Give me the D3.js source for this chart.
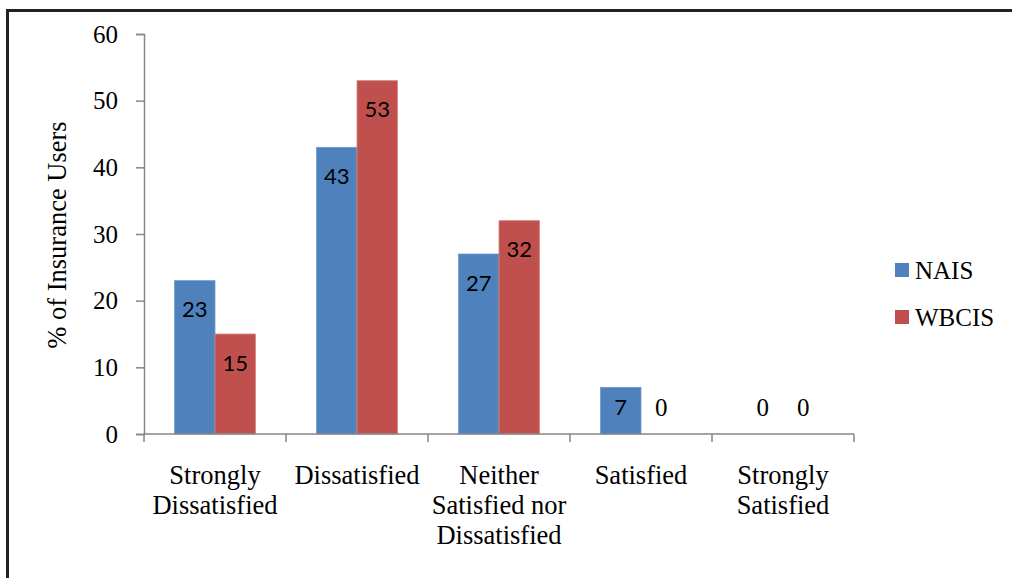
<!DOCTYPE html>
<html>
<head>
<meta charset="utf-8">
<script src="https://cdn.jsdelivr.net/npm/d3@7"></script>
<style>
  html, body { margin: 0; padding: 0; background: #fff; }
  svg { display: block; }
</style>
</head>
<body>
<svg id="chart" width="1012" height="578"></svg>
<script>
// Satisfaction levels of insurance users, NAIS vs WBCIS (% of users)
const categories = [
  ["Strongly", "Dissatisfied"],
  ["Dissatisfied"],
  ["Neither", "Satisfied nor", "Dissatisfied"],
  ["Satisfied"],
  ["Strongly", "Satisfied"]
];
const seriesNames = ["NAIS", "WBCIS"];
const naisValues = [23, 43, 27, 7, 0];
const wbcisValues = [15, 53, 32, 0, 0];
const yTicks = [0, 10, 20, 30, 40, 50, 60];
const colors = ["#4F81BD", "#C0504D"];

const svg = d3.select("#chart");
const serif = "'Liberation Serif', 'Times New Roman', serif";
const sans = "Lato, 'Open Sans', sans-serif";

// Outer frame
svg.append("rect")
  .attr("x", 7.5).attr("y", 10.5)
  .attr("width", 1100).attr("height", 700)
  .attr("fill", "none").attr("stroke", "#222").attr("stroke-width", 3);

const plot = { left: 144, right: 854, top: 34, bottom: 434 };

const keys = categories.map((c, i) => i);
const x0 = d3.scaleBand().domain(keys)
  .range([plot.left, plot.right])
  .paddingInner(0.43).paddingOuter(0.215);
const x1 = d3.scaleBand().domain(seriesNames).range([0, x0.bandwidth()]);
const y = d3.scaleLinear().domain([0, 60]).range([plot.bottom, plot.top]);

const rows = keys.map(i => ({ i, values: [naisValues[i], wbcisValues[i]] }));

// Bars
const groups = svg.append("g").selectAll("g").data(rows).join("g")
  .attr("transform", d => `translate(${x0(d.i)},0)`);

groups.selectAll("rect")
  .data(d => d.values.map((v, k) => ({ v, k, name: seriesNames[k] })).filter(e => e.v > 0))
  .join("rect")
  .attr("x", e => x1(e.name))
  .attr("y", e => y(e.v))
  .attr("width", x1.bandwidth())
  .attr("height", e => y(0) - y(e.v))
  .attr("fill", e => colors[e.k])
  .attr("stroke", e => e.k === 0 ? "#6f9ad0" : "#d68380")
  .attr("stroke-width", 0.8);

// Value labels
groups.selectAll("text")
  .data(d => d.values.map((v, k) => ({ v, k, name: seriesNames[k] })))
  .join("text")
  .attr("x", e => x1(e.name) + x1.bandwidth() / 2)
  .attr("y", e => {
    if (e.v === 0) return y(0) - 27;
    const h = y(0) - y(e.v);
    return y(e.v) + Math.min(29, h / 2 - 3);
  })
  .attr("dy", "0.35em")
  .attr("text-anchor", "middle")
  .attr("font-family", e => e.v === 0 ? serif : sans)
  .attr("font-size", e => e.v === 0 ? 25 : 22)
  .attr("fill", "#000")
  .text(e => e.v);

// Y axis
const yAxis = d3.axisLeft(y).tickValues(yTicks).tickSize(8).tickPadding(18);
const yg = svg.append("g").attr("transform", `translate(${plot.left},0)`).call(yAxis)
  .attr("font-family", serif).attr("font-size", 25);
yg.select(".domain").attr("stroke", "#868686").attr("stroke-width", 1.5);
yg.selectAll(".tick line").attr("stroke", "#868686").attr("stroke-width", 1.5);
yg.selectAll(".tick text").attr("fill", "#000");

// X axis with ticks at category boundaries
const xg = svg.append("g");
xg.append("line")
  .attr("x1", plot.left).attr("x2", plot.right)
  .attr("y1", y(0)).attr("y2", y(0))
  .attr("stroke", "#868686").attr("stroke-width", 1.5);
const boundaries = keys.map(i => x0(i) - x0.step() * x0.paddingInner() / 2).concat([plot.right]);
xg.selectAll("line.tick").data(boundaries).join("line")
  .attr("class", "tick")
  .attr("x1", d => d).attr("x2", d => d)
  .attr("y1", y(0)).attr("y2", y(0) + 8)
  .attr("stroke", "#868686").attr("stroke-width", 1.5);

// Category labels
const catLabels = xg.selectAll("text.cat").data(categories).join("text")
  .attr("class", "cat")
  .attr("text-anchor", "middle")
  .attr("font-family", serif).attr("font-size", 26.5).attr("fill", "#000");
catLabels.each(function(lines, i) {
  const cx = x0(i) + x0.bandwidth() / 2;
  d3.select(this).selectAll("tspan").data(lines).join("tspan")
    .attr("x", cx)
    .attr("y", (d, j) => y(0) + 50 + j * 30)
    .text(d => d);
});

// Y axis title
svg.append("text")
  .attr("transform", "translate(66,235) rotate(-90)")
  .attr("text-anchor", "middle")
  .attr("font-family", serif).attr("font-size", 26.5).attr("fill", "#000")
  .text("% of Insurance Users");

// Legend
const legend = svg.append("g").selectAll("g").data(seriesNames).join("g")
  .attr("transform", (d, i) => `translate(895,${270 + i * 47})`);
legend.append("rect")
  .attr("x", 0).attr("y", -7).attr("width", 14).attr("height", 14)
  .attr("fill", (d, i) => colors[i]);
legend.append("text")
  .attr("x", 20).attr("y", 0).attr("dy", "0.35em")
  .attr("font-family", serif).attr("font-size", 25).attr("fill", "#000")
  .text(d => d);
</script>
</body>
</html>
